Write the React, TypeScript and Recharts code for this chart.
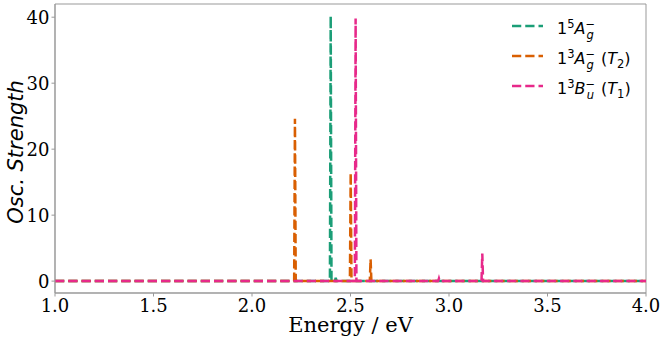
import { LineChart, Line, XAxis, YAxis, ReferenceArea, Legend, Label } from 'recharts';

// stick spectra: peak energies (eV) and oscillator strengths per state
const QUINTET_E = [2.3995, 2.425];
const QUINTET_F = [40.2, 0.5];
const TRIPLET_AG_E = [2.218, 2.501, 2.602];
const TRIPLET_AG_F = [24.6, 16.4, 3.3];
const TRIPLET_BU_E = [2.526, 2.949, 3.169];
const TRIPLET_BU_F = [39.8, 0.4, 4.2];

const X_TICKS = [1.0, 1.5, 2.0, 2.5, 3.0, 3.5, 4.0];
const Y_TICKS = [0, 10, 20, 30, 40];

const E_MIN = 1.0;
const E_MAX = 4.0;
const F_MIN = -1.8;
const F_MAX = 42;
const HALF_WIDTH = 0.004;

const GREEN = '#1b9e77';
const ORANGE = '#d95f02';
const PINK = '#e7298a';
const SPINE = '#999999';
const DASH = '9.25 4';

function buildSpectrum(energies: number[], strengths: number[]) {
  const pts: { x: number; y: number }[] = [{ x: E_MIN, y: 0 }];
  energies.forEach((e, i) => {
    pts.push({ x: e - HALF_WIDTH, y: 0 });
    pts.push({ x: e, y: strengths[i] });
    pts.push({ x: e + HALF_WIDTH, y: 0 });
  });
  pts.push({ x: E_MAX, y: 0 });
  return pts;
}

type Seg = { t: string; small?: boolean; italic?: boolean; shift?: number; dx?: number };

const LEGEND_ITEMS: { color: string; segs: Seg[] }[] = [
  {
    color: GREEN,
    segs: [
      { t: '1' },
      { t: '5', small: true, shift: -6.5 },
      { t: 'A', italic: true },
      { t: '−', small: true, shift: -6.5 },
      { t: 'g', small: true, italic: true, shift: 4.5, dx: -8.5 },
    ],
  },
  {
    color: ORANGE,
    segs: [
      { t: '1' },
      { t: '3', small: true, shift: -6.5 },
      { t: 'A', italic: true },
      { t: '−', small: true, shift: -6.5 },
      { t: 'g', small: true, italic: true, shift: 4.5, dx: -8.5 },
      { t: '\u00a0(', dx: 2 },
      { t: 'T', italic: true },
      { t: '2', small: true, shift: 3.5 },
      { t: ')' },
    ],
  },
  {
    color: PINK,
    segs: [
      { t: '1' },
      { t: '3', small: true, shift: -6.5 },
      { t: 'B', italic: true },
      { t: '−', small: true, shift: -6.5 },
      { t: 'u', small: true, italic: true, shift: 4.5, dx: -8.5 },
      { t: '\u00a0(', dx: 2 },
      { t: 'T', italic: true },
      { t: '1', small: true, shift: 3.5 },
      { t: ')' },
    ],
  },
];

function MathLabel({ x, y, segs }: { x: number; y: number; segs: Seg[] }) {
  let prev = 0;
  return (
    <text x={x} y={y} fontFamily="DejaVu Sans" fontSize={16} fill="#000">
      {segs.map((s, i) => {
        const shift = s.shift ?? 0;
        const dy = shift - prev;
        prev = shift;
        return (
          <tspan
            key={i}
            dy={dy}
            dx={s.dx ?? 0}
            fontSize={s.small ? 11.5 : 16}
            fontStyle={s.italic ? 'italic' : 'normal'}
          >
            {s.t}
          </tspan>
        );
      })}
    </text>
  );
}

function renderLegend() {
  return (
    <svg width={160} height={100}>
      {LEGEND_ITEMS.map((item, i) => {
        const cy = 18 + i * 30;
        return (
          <g key={i}>
            <line
              x1={7}
              x2={38}
              y1={cy}
              y2={cy}
              stroke={item.color}
              strokeWidth={2.5}
              strokeDasharray={DASH}
            />
            <MathLabel x={52} y={cy + 8} segs={item.segs} />
          </g>
        );
      })}
    </svg>
  );
}

const TICK_STYLE = { fontFamily: 'DejaVu Serif', fontSize: 18, fill: '#000' };

export default function App() {
  const quintet = buildSpectrum(QUINTET_E, QUINTET_F);
  const tripletAg = buildSpectrum(TRIPLET_AG_E, TRIPLET_AG_F);
  const tripletBu = buildSpectrum(TRIPLET_BU_E, TRIPLET_BU_F);

  return (
    <div style={{ position: 'absolute', left: 0, top: 0, width: 664, height: 341, background: '#fff' }}>
      <LineChart width={664} height={341} margin={{ top: 4, right: 18, bottom: 0, left: 0 }}>
        <XAxis
          type="number"
          dataKey="x"
          domain={[E_MIN, E_MAX]}
          ticks={X_TICKS}
          tickFormatter={(v: number) => v.toFixed(1)}
          tick={TICK_STYLE}
          tickSize={3.5}
          tickMargin={3}
          stroke={SPINE}
          height={48}
          allowDataOverflow
        >
          <Label
            content={({ viewBox }: any) => (
              <text
                x={viewBox.x + viewBox.width / 2}
                y={viewBox.y + 39}
                textAnchor="middle"
                fontFamily="DejaVu Serif"
                fontSize={21}
                fill="#000"
              >
                Energy / eV
              </text>
            )}
          />
        </XAxis>
        <YAxis
          type="number"
          dataKey="y"
          domain={[F_MIN, F_MAX]}
          ticks={Y_TICKS}
          tick={TICK_STYLE}
          tickSize={3.5}
          tickMargin={2}
          stroke={SPINE}
          width={55}
          allowDataOverflow
        >
          <Label
            content={() => {
              const cx = 23;
              const cy = 152;
              return (
                <text
                  x={cx}
                  y={cy}
                  transform={`rotate(-90 ${cx} ${cy})`}
                  textAnchor="middle"
                  fontFamily="DejaVu Sans"
                  fontStyle="italic"
                  fontSize={21}
                  fill="#000"
                >
                  Osc. Strength
                </text>
              );
            }}
          />
        </YAxis>
        <ReferenceArea x1={E_MIN} x2={E_MAX} y1={F_MIN} y2={F_MAX} fill="none" stroke={SPINE} ifOverflow="visible" />
        <Line data={quintet} dataKey="y" type="linear" stroke={GREEN} strokeWidth={2.5} strokeDasharray={DASH} dot={false} isAnimationActive={false} />
        <Line data={tripletAg} dataKey="y" type="linear" stroke={ORANGE} strokeWidth={2.5} strokeDasharray={DASH} dot={false} isAnimationActive={false} />
        <Line data={tripletBu} dataKey="y" type="linear" stroke={PINK} strokeWidth={2.5} strokeDasharray={DASH} dot={false} isAnimationActive={false} />
        <Legend
          layout="vertical"
          align="center"
          verticalAlign="middle"
          content={renderLegend}
          wrapperStyle={{ position: 'absolute', left: 505, top: 8, width: 160, height: 100 }}
        />
      </LineChart>
    </div>
  );
}
